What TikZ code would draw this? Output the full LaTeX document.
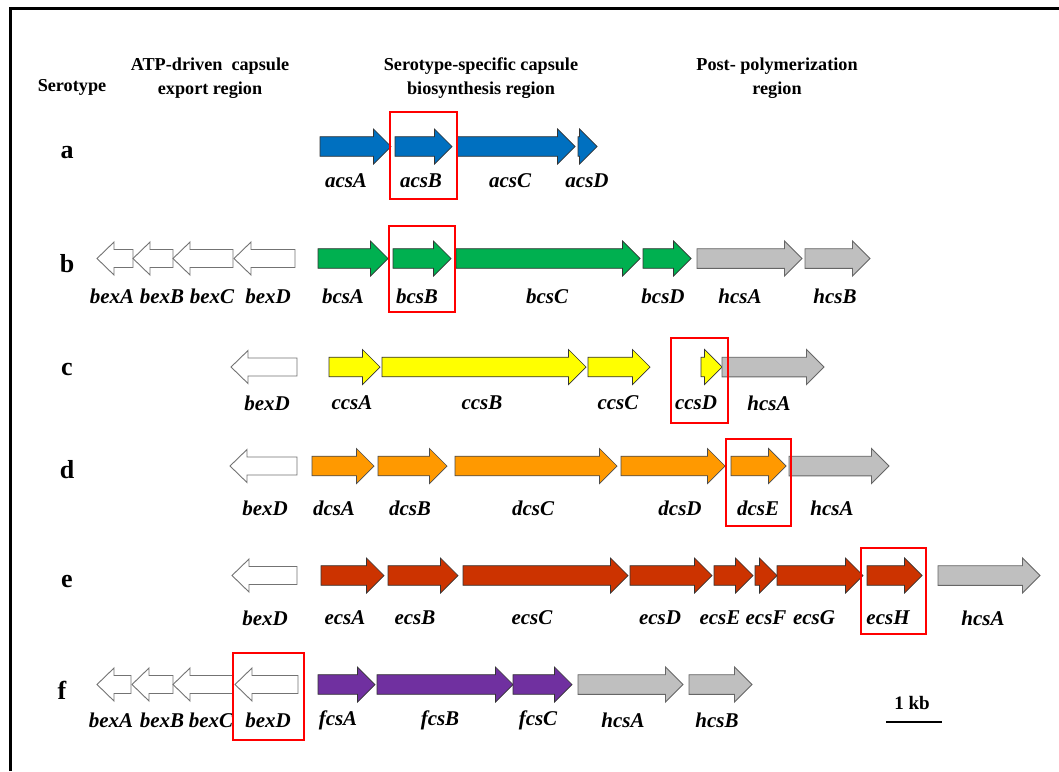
\documentclass[tikz,border=0pt]{standalone}
\usepackage{fontspec}
\setmainfont{Liberation Serif}
\definecolor{gblue}{HTML}{0070C0}
\definecolor{ggreen}{HTML}{00B050}
\definecolor{gyellow}{HTML}{FFFF00}
\definecolor{gorange}{HTML}{FF9900}
\definecolor{gred}{HTML}{CC3300}
\definecolor{gpurple}{HTML}{7030A0}
\definecolor{ggrey}{HTML}{BFBFBF}
\tikzset{
  blueg/.style={fill=gblue,draw=black!80,line width=0.7pt},
  greeng/.style={fill=ggreen,draw=black!80,line width=0.7pt},
  yellowg/.style={fill=gyellow,draw=black!80,line width=0.7pt},
  orangeg/.style={fill=gorange,draw=black!70,line width=0.7pt},
  redg/.style={fill=gred,draw=black!80,line width=0.7pt},
  purpleg/.style={fill=gpurple,draw=black!80,line width=0.7pt},
  greyg/.style={fill=ggrey,draw=black!60,line width=0.9pt},
  whiteg/.style={fill=white,draw=black!55,line width=0.9pt},
  glabel/.style={font=\bfseries\itshape\fontsize{21}{22}\selectfont,inner sep=0pt},
  header/.style={font=\bfseries\fontsize{18.2}{23.5}\selectfont,align=center,inner sep=0pt},
  rowlab/.style={font=\bfseries\fontsize{26}{28}\selectfont,inner sep=0pt},
  hilite/.style={draw=red,line width=2.6pt},
}
% right-pointing gene: x1, x2(tip), y, style
\newcommand{\rgene}[4]{%
  \pgfmathsetmacro{\gxh}{max(#1,#2-17.5)}%
  \draw[#4] (#1,#3-9.8) -- (\gxh,#3-9.8) -- (\gxh,#3-17.5) -- (#2,#3) -- (\gxh,#3+17.5) -- (\gxh,#3+9.8) -- (#1,#3+9.8) -- cycle;}
% left-pointing gene: tip, right end, y, style
\newcommand{\lgene}[4]{%
  \pgfmathsetmacro{\gxh}{min(#2,#1+17)}%
  \draw[#4] (#2,#3-9) -- (\gxh,#3-9) -- (\gxh,#3-16.5) -- (#1,#3) -- (\gxh,#3+16.5) -- (\gxh,#3+9) -- (#2,#3+9) -- cycle;}
\begin{document}
\begin{tikzpicture}[x=1pt,y=-1pt]
\useasboundingbox (0,0) rectangle (1059,771);
\fill[white] (0,0) rectangle (1059,771);
% frame (cropped)
\draw[line width=2.6pt] (10.5,771) -- (10.5,8.5) -- (1059,8.5);

% headers
\node[header] (hSero) at (72,87) {Serotype};
\node[header] (hATP) at (210,78) {ATP-driven\ \ capsule\\export region};
\node[header] (hSS) at (481,78) {Serotype-specific capsule\\biosynthesis region};
\node[header] (hPost) at (777,78) {Post- polymerization\\region};

% row letters
\node[rowlab] (ra) at (67,153) {a};
\node[rowlab] (rb) at (67,264) {b};
\node[rowlab] (rc) at (67,369) {c};
\node[rowlab] (rd) at (67,470) {d};
\node[rowlab] (re) at (67,581) {e};
\node[rowlab] (rf) at (62,690) {f};

% ---- row a ----
\rgene{320}{391}{146.5}{blueg}
\rgene{395}{452}{146.5}{blueg}
\rgene{457}{575}{146.5}{blueg}
\rgene{578}{597}{146.5}{blueg}
\node[glabel] (a1) at (346,181) {acsA};
\node[glabel] (a2) at (421,181) {acsB};
\node[glabel] (a3) at (510,181) {acsC};
\node[glabel] (a4) at (587,181) {acsD};

% ---- row b ----
\lgene{97}{133}{258.5}{whiteg}
\lgene{133}{173}{258.5}{whiteg}
\lgene{173}{233}{258.5}{whiteg}
\lgene{234}{295}{258.5}{whiteg}
\rgene{318}{388}{258.5}{greeng}
\rgene{393}{451}{258.5}{greeng}
\rgene{456}{640}{258.5}{greeng}
\rgene{643}{691}{258.5}{greeng}
\rgene{697}{802}{258.5}{greyg}
\rgene{805}{870}{258.5}{greyg}
\node[glabel] (b1) at (112,296) {bexA};
\node[glabel] (b2) at (162,296) {bexB};
\node[glabel] (b3) at (212,296) {bexC};
\node[glabel] (b4) at (268,296) {bexD};
\node[glabel] (b5) at (343,296) {bcsA};
\node[glabel] (b6) at (417,296) {bcsB};
\node[glabel] (b7) at (547,296) {bcsC};
\node[glabel] (b8) at (663,296) {bcsD};
\node[glabel] (b9) at (740,296) {hcsA};
\node[glabel] (b10) at (835,296) {hcsB};

% ---- row c ----
\lgene{231}{297}{367}{whiteg}
\rgene{329}{380}{367}{yellowg}
\rgene{382}{586}{367}{yellowg}
\rgene{588}{650}{367}{yellowg}
\rgene{701}{722}{367}{yellowg}
\rgene{722}{824}{367}{greyg}
\node[glabel] (c1) at (267,403) {bexD};
\node[glabel] (c2) at (352,403) {ccsA};
\node[glabel] (c3) at (482,403) {ccsB};
\node[glabel] (c4) at (618,403) {ccsC};
\node[glabel] (c5) at (696,403) {ccsD};
\node[glabel] (c6) at (769,403) {hcsA};

% ---- row d ----
\lgene{230}{297}{466}{whiteg}
\rgene{312}{374}{466}{orangeg}
\rgene{378}{447}{466}{orangeg}
\rgene{455}{617}{466}{orangeg}
\rgene{621}{725}{466}{orangeg}
\rgene{731}{786}{466}{orangeg}
\rgene{789}{889}{466}{greyg}
\node[glabel] (d1) at (265,508) {bexD};
\node[glabel] (d2) at (334,508) {dcsA};
\node[glabel] (d3) at (410,508) {dcsB};
\node[glabel] (d4) at (533,508) {dcsC};
\node[glabel] (d5) at (680,508) {dcsD};
\node[glabel] (d6) at (758,508) {dcsE};
\node[glabel] (d7) at (832,508) {hcsA};

% ---- row e ----
\lgene{232}{297}{575.5}{whiteg}
\rgene{321}{384}{575.5}{redg}
\rgene{388}{458}{575.5}{redg}
\rgene{463}{628}{575.5}{redg}
\rgene{630}{712}{575.5}{redg}
\rgene{714}{753}{575.5}{redg}
\rgene{755}{777}{575.5}{redg}
\rgene{777}{863}{575.5}{redg}
\rgene{867}{922}{575.5}{redg}
\rgene{938}{1040}{575.5}{greyg}
\node[glabel] (e1) at (265,618) {bexD};
\node[glabel] (e2) at (345,618) {ecsA};
\node[glabel] (e3) at (415,618) {ecsB};
\node[glabel] (e4) at (532,618) {ecsC};
\node[glabel] (e5) at (660,618) {ecsD};
\node[glabel] (e6) at (720,618) {ecsE};
\node[glabel] (e7) at (766,618) {ecsF};
\node[glabel] (e8) at (814,618) {ecsG};
\node[glabel] (e9) at (888,618) {ecsH};
\node[glabel] (e10) at (983,618) {hcsA};

% ---- row f ----
\lgene{97}{131}{684.5}{whiteg}
\lgene{132}{173}{684.5}{whiteg}
\lgene{173}{233}{684.5}{whiteg}
\lgene{235}{298}{684.5}{whiteg}
\rgene{318}{375}{684.5}{purpleg}
\rgene{377}{513}{684.5}{purpleg}
\rgene{513}{572}{684.5}{purpleg}
\rgene{578}{683}{684.5}{greyg}
\rgene{689}{752}{684.5}{greyg}
\node[glabel] (f1) at (111,720) {bexA};
\node[glabel] (f2) at (162,720) {bexB};
\node[glabel] (f3) at (211,720) {bexC};
\node[glabel] (f4) at (268,720) {bexD};
\node[glabel] (f5) at (338,720) {fcsA};
\node[glabel] (f6) at (440,720) {fcsB};
\node[glabel] (f7) at (538,720) {fcsC};
\node[glabel] (f8) at (623,720) {hcsA};
\node[glabel] (f9) at (717,720) {hcsB};

% red highlight boxes
\draw[hilite] (390,112) rectangle (457,199);
\draw[hilite] (389,226) rectangle (455,312);
\draw[hilite] (671,338) rectangle (728,423);
\draw[hilite] (726,439) rectangle (791,526);
\draw[hilite] (861,548) rectangle (926,634);
\draw[hilite] (233,653) rectangle (304,740);

% scale bar
\node[font=\bfseries\fontsize{19}{21}\selectfont,inner sep=0pt] (kb) at (912,703) {1 kb};
\coordinate (sbL) at (886,722);
\coordinate (sbR) at (942,722);
\draw[line width=1.2pt] (sbL) -- (sbR);
\end{tikzpicture}
\end{document}
